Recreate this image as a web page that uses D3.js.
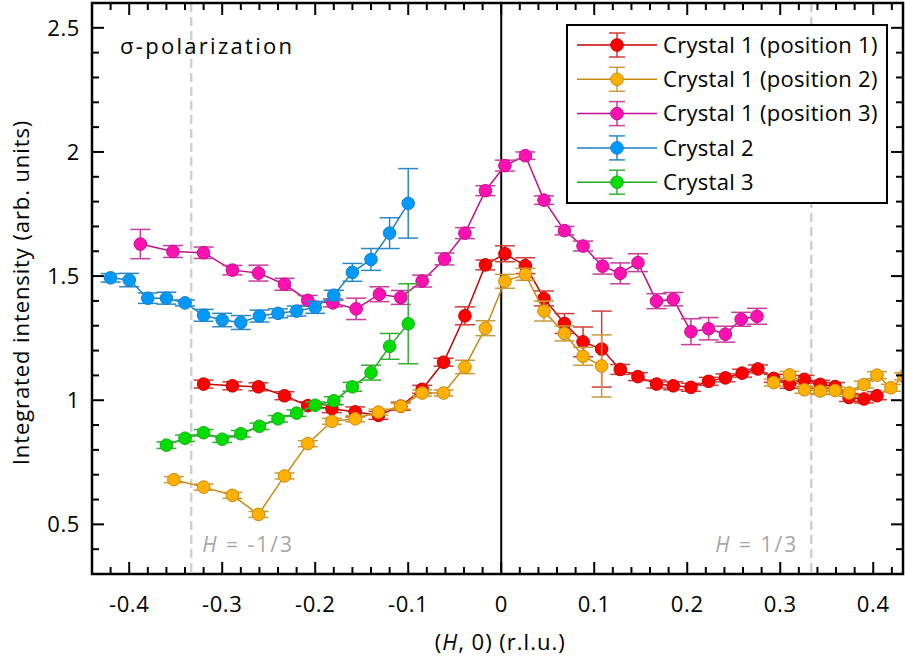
<!DOCTYPE html>
<html>
<head>
<meta charset="utf-8">
<script src="https://cdn.jsdelivr.net/npm/d3@7"></script>
<style>
	body { margin: 0; background: #fff; }
	svg text { font-family: "Open Sans", "Noto Sans", sans-serif; }
</style>
</head>
<body>
<div id="chart"></div>
<script>
// Crystal 1 (position 1)
const c1p1H = [-0.320, -0.289, -0.261, -0.233, -0.208, -0.182, -0.157, -0.132, -0.108, -0.085, -0.062, -0.039, -0.017, 0.004, 0.026, 0.046, 0.068, 0.088, 0.108, 0.128, 0.147, 0.167, 0.185, 0.204, 0.223, 0.241, 0.259, 0.276, 0.293, 0.310, 0.326, 0.343, 0.359, 0.374, 0.390, 0.404];
const c1p1I = [1.065, 1.058, 1.054, 1.018, 0.978, 0.966, 0.953, 0.939, 0.976, 1.044, 1.153, 1.340, 1.545, 1.590, 1.542, 1.410, 1.309, 1.235, 1.206, 1.124, 1.095, 1.065, 1.058, 1.052, 1.076, 1.090, 1.109, 1.126, 1.088, 1.064, 1.084, 1.064, 1.055, 1.011, 1.005, 1.018];
const c1p1Err = [0.016, 0.016, 0.016, 0.016, 0.016, 0.016, 0.02, 0.016, 0.016, 0.016, 0.016, 0.036, 0.02, 0.032, 0.032, 0.03, 0.04, 0.06, 0.153, 0.02, 0.016, 0.016, 0.016, 0.016, 0.016, 0.016, 0.016, 0.016, 0.016, 0.016, 0.016, 0.016, 0.016, 0.016, 0.016, 0.016];

// Crystal 1 (position 2)
const c1p2H = [-0.352, -0.320, -0.289, -0.261, -0.233, -0.208, -0.182, -0.157, -0.132, -0.108, -0.085, -0.062, -0.039, -0.017, 0.004, 0.026, 0.046, 0.068, 0.088, 0.108, 0.293, 0.310, 0.326, 0.343, 0.359, 0.374, 0.390, 0.404, 0.419, 0.433];
const c1p2I = [0.680, 0.650, 0.617, 0.540, 0.695, 0.825, 0.915, 0.925, 0.952, 0.976, 1.029, 1.029, 1.134, 1.290, 1.479, 1.507, 1.359, 1.269, 1.177, 1.138, 1.071, 1.102, 1.042, 1.037, 1.039, 1.029, 1.063, 1.101, 1.050, 1.096];
const c1p2Err = [0.012, 0.012, 0.012, 0.012, 0.012, 0.012, 0.012, 0.012, 0.012, 0.012, 0.012, 0.012, 0.027, 0.03, 0.028, 0.024, 0.04, 0.03, 0.036, 0.125, 0.014, 0.014, 0.014, 0.014, 0.014, 0.014, 0.014, 0.014, 0.014, 0.014];

// Crystal 1 (position 3)
const c1p3H = [-0.388, -0.353, -0.320, -0.289, -0.261, -0.233, -0.208, -0.181, -0.156, -0.131, -0.108, -0.085, -0.061, -0.039, -0.017, 0.004, 0.026, 0.046, 0.068, 0.088, 0.109, 0.128, 0.147, 0.167, 0.185, 0.204, 0.223, 0.241, 0.258, 0.275];
const c1p3I = [1.629, 1.599, 1.594, 1.524, 1.512, 1.467, 1.402, 1.392, 1.368, 1.427, 1.414, 1.480, 1.569, 1.673, 1.844, 1.945, 1.985, 1.806, 1.683, 1.621, 1.540, 1.511, 1.554, 1.399, 1.407, 1.276, 1.288, 1.266, 1.326, 1.338];
const c1p3Err = [0.059, 0.024, 0.023, 0.019, 0.032, 0.024, 0.02, 0.016, 0.043, 0.03, 0.028, 0.024, 0.024, 0.022, 0.02, 0.022, 0.015, 0.017, 0.017, 0.02, 0.032, 0.042, 0.036, 0.03, 0.027, 0.052, 0.045, 0.032, 0.028, 0.032];

// Crystal 2
const c2H = [-0.42, -0.40, -0.38, -0.36, -0.34, -0.32, -0.30, -0.28, -0.26, -0.24, -0.22, -0.20, -0.18, -0.16, -0.14, -0.12, -0.10];
const c2I = [1.493, 1.484, 1.411, 1.411, 1.392, 1.342, 1.323, 1.313, 1.339, 1.350, 1.359, 1.374, 1.423, 1.515, 1.567, 1.673, 1.793];
const c2Err = [0.017, 0.027, 0.021, 0.024, 0.012, 0.024, 0.027, 0.028, 0.024, 0.018, 0.02, 0.024, 0.02, 0.036, 0.044, 0.062, 0.14];

// Crystal 3
const c3H = [-0.36, -0.34, -0.32, -0.30, -0.28, -0.26, -0.24, -0.22, -0.20, -0.18, -0.16, -0.14, -0.12, -0.10];
const c3I = [0.819, 0.847, 0.869, 0.843, 0.865, 0.895, 0.925, 0.948, 0.980, 0.998, 1.054, 1.111, 1.217, 1.308];
const c3Err = [0.013, 0.013, 0.013, 0.013, 0.013, 0.013, 0.013, 0.013, 0.013, 0.016, 0.018, 0.03, 0.052, 0.161];

const seriesNames = ["Crystal 1 (position 1)", "Crystal 1 (position 2)", "Crystal 1 (position 3)", "Crystal 2", "Crystal 3"];
const xTicks = [-0.4, -0.3, -0.2, -0.1, 0, 0.1, 0.2, 0.3, 0.4];
const yTicks = [0.5, 1, 1.5, 2, 2.5];
const commensurateH = [-1 / 3, 1 / 3];

class ScanChart {
	constructor(_config) {
		this.config = {
			parentElement: _config.parentElement,
			containerWidth: _config.containerWidth || 905,
			containerHeight: _config.containerHeight || 663,
			margin: _config.margin || { top: 3, right: 2, bottom: 89, left: 92 },
		};
		this.series = [];
	}

	initVis() {
		let vis = this;
		const m = vis.config.margin;
		vis.width = vis.config.containerWidth - m.left - m.right;
		vis.height = vis.config.containerHeight - m.top - m.bottom;

		vis.svg = d3.select(vis.config.parentElement).append("svg")
			.attr("width", vis.config.containerWidth)
			.attr("height", vis.config.containerHeight);

		vis.chart = vis.svg.append("g").attr("transform", `translate(${m.left},${m.top})`);

		vis.xScale = d3.scaleLinear().domain([-0.44, 0.432]).range([0, vis.width]);
		vis.yScale = d3.scaleLinear().domain([0.3, 2.6]).range([vis.height, 0]);

		vis.svg.append("defs").append("clipPath").attr("id", "plot-clip")
			.append("rect").attr("width", vis.width).attr("height", vis.height);

		vis.render();
	}

	render() {
		let vis = this;
		const x = vis.xScale, y = vis.yScale;

		// reference lines at H = +-1/3
		vis.chart.selectAll(".comm-line").data(commensurateH).join("line")
			.attr("class", "comm-line")
			.attr("x1", (d) => x(d)).attr("x2", (d) => x(d))
			.attr("y1", 0).attr("y2", vis.height)
			.attr("stroke", "#d0d0d0").attr("stroke-width", 2.5)
			.attr("stroke-dasharray", "9,5");

		const hLabel = vis.chart.selectAll(".comm-label").data(commensurateH).join("text")
			.attr("class", "comm-label")
			.attr("x", (d) => (d < 0 ? x(d) + 11 : x(d) - 13))
			.attr("y", vis.height - 22)
			.attr("text-anchor", (d) => (d < 0 ? "start" : "end"))
			.attr("fill", "#a6a6a6").attr("font-size", 21).attr("letter-spacing", 2);
		hLabel.append("tspan").attr("font-style", "italic").text("H");
		hLabel.append("tspan").text((d) => (d < 0 ? " = -1/3" : " = 1/3"));

		// H = 0
		vis.chart.append("line")
			.attr("x1", x(0)).attr("x2", x(0)).attr("y1", 0).attr("y2", vis.height)
			.attr("stroke", "#000").attr("stroke-width", 2);

		// data
		const plot = vis.chart.append("g").attr("clip-path", "url(#plot-clip)");
		const line = d3.line().x((d) => x(d.h)).y((d) => y(d.i));

		vis.series.forEach((s) => {
			const pts = s.h.map((h, k) => ({ h: h, i: s.i[k], e: s.e[k] }));
			// break the line where the scan has a gap
			const segs = [[pts[0]]];
			for (let k = 1; k < pts.length; k++) {
				if (pts[k].h - pts[k - 1].h > 0.06) segs.push([]);
				segs[segs.length - 1].push(pts[k]);
			}
			const g = plot.append("g");

			g.selectAll("path").data(segs).join("path")
				.attr("fill", "none").attr("stroke", s.line).attr("stroke-width", 1.5)
				.attr("d", line);

			const bars = g.selectAll(".err").data(pts).join("g").attr("class", "err")
				.attr("stroke", s.err).attr("stroke-width", 1.5);
			bars.append("line")
				.attr("x1", (d) => x(d.h)).attr("x2", (d) => x(d.h))
				.attr("y1", (d) => y(d.i - d.e)).attr("y2", (d) => y(d.i + d.e));
			bars.selectAll(".cap").data((d) => [d.i - d.e, d.i + d.e].map((v) => ({ h: d.h, v: v })))
				.join("line").attr("class", "cap")
				.attr("x1", (d) => x(d.h) - 10).attr("x2", (d) => x(d.h) + 10)
				.attr("y1", (d) => y(d.v)).attr("y2", (d) => y(d.v));

			g.selectAll("circle").data(pts).join("circle")
				.attr("cx", (d) => x(d.h)).attr("cy", (d) => y(d.i)).attr("r", 6.3)
				.attr("fill", s.fill).attr("stroke", s.line).attr("stroke-width", 1);
		});

		// axes on all four sides, ticks inside
		const minorX = d3.range(-44, 44, 2).map((v) => v / 100).filter((v) => Math.abs(Math.round(v * 10) - v * 10) > 1e-6);
		const minorY = d3.range(3, 27, 1).map((v) => v / 10).filter((v) => Math.abs(Math.round(v * 2) - v * 2) > 1e-6);

		const ticks = vis.chart.append("g").attr("stroke", "#000").attr("stroke-width", 2);
		const addX = (vals, len) => {
			ticks.selectAll(null).data(vals).join("line")
				.attr("x1", (d) => x(d)).attr("x2", (d) => x(d)).attr("y1", vis.height).attr("y2", vis.height - len);
			ticks.selectAll(null).data(vals).join("line")
				.attr("x1", (d) => x(d)).attr("x2", (d) => x(d)).attr("y1", 0).attr("y2", len);
		};
		const addY = (vals, len) => {
			ticks.selectAll(null).data(vals).join("line")
				.attr("y1", (d) => y(d)).attr("y2", (d) => y(d)).attr("x1", 0).attr("x2", len);
			ticks.selectAll(null).data(vals).join("line")
				.attr("y1", (d) => y(d)).attr("y2", (d) => y(d)).attr("x1", vis.width).attr("x2", vis.width - len);
		};
		addX(xTicks, 12);
		addX(minorX, 7);
		addY(yTicks, 12);
		addY(minorY, 7);

		vis.chart.append("rect")
			.attr("width", vis.width).attr("height", vis.height)
			.attr("fill", "none").attr("stroke", "#000").attr("stroke-width", 2.5);

		vis.chart.selectAll(".x-tick").data(xTicks).join("text")
			.attr("class", "x-tick")
			.attr("x", (d) => x(d)).attr("y", vis.height + 38)
			.attr("text-anchor", "middle").attr("font-size", 22).attr("letter-spacing", 0.6)
			.text((d) => (d === 0 ? "0" : d3.format(".1f")(d).replace("−", "-")));

		vis.chart.selectAll(".y-tick").data(yTicks).join("text")
			.attr("class", "y-tick")
			.attr("x", -12).attr("y", (d) => y(d)).attr("dy", "0.35em")
			.attr("text-anchor", "end").attr("font-size", 22).attr("letter-spacing", 0.6)
			.text((d) => String(d));

		// axis titles
		const xTitle = vis.svg.append("text")
			.attr("x", vis.config.margin.left + x(0) - 1).attr("y", 650)
			.attr("text-anchor", "middle").attr("font-size", 22).attr("letter-spacing", 1);
		xTitle.append("tspan").text("(");
		xTitle.append("tspan").attr("font-style", "italic").text("H");
		xTitle.append("tspan").text(", 0) (r.l.u.)");

		vis.svg.append("text")
			.attr("transform", `translate(29,${vis.config.margin.top + vis.height / 2 + 4}) rotate(-90)`)
			.attr("text-anchor", "middle").attr("font-size", 22).attr("letter-spacing", 0.9)
			.text("Integrated intensity (arb. units)");

		vis.chart.append("text")
			.attr("x", 28).attr("y", 51).attr("font-size", 22).attr("letter-spacing", 2.3)
			.text("σ-polarization");

		// legend
		const lg = vis.chart.append("g").attr("transform", "translate(475,22)");
		lg.append("rect").attr("width", 320).attr("height", 178)
			.attr("fill", "#fff").attr("stroke", "#000").attr("stroke-width", 2);
		const rows = lg.selectAll(".row").data(vis.series).join("g")
			.attr("class", "row")
			.attr("transform", (d, k) => `translate(0,${20 + k * 34.3})`);
		rows.append("line").attr("x1", 10).attr("x2", 90).attr("stroke", (d) => d.line).attr("stroke-width", 1.5);
		rows.append("line").attr("x1", 50).attr("x2", 50).attr("y1", -12).attr("y2", 12)
			.attr("stroke", (d) => d.err).attr("stroke-width", 1.5);
		rows.selectAll(".cap").data((d) => [-12, 12].map((v) => ({ v: v, c: d.err }))).join("line")
			.attr("class", "cap")
			.attr("x1", 42).attr("x2", 58).attr("y1", (d) => d.v).attr("y2", (d) => d.v)
			.attr("stroke", (d) => d.c).attr("stroke-width", 1.5);
		rows.append("circle").attr("cx", 50).attr("r", 6.3)
			.attr("fill", (d) => d.fill).attr("stroke", (d) => d.line).attr("stroke-width", 1);
		rows.append("text").attr("x", 96).attr("dy", "0.35em").attr("font-size", 22).attr("letter-spacing", 0.3)
			.text((d) => d.name);
	}
}

const chart = new ScanChart({ parentElement: "#chart" });
chart.series = [
	{ name: seriesNames[0], h: c1p1H, i: c1p1I, e: c1p1Err, fill: "#ff0000", line: "#c80000", err: "#d03a3a" },
	{ name: seriesNames[1], h: c1p2H, i: c1p2I, e: c1p2Err, fill: "#ffb000", line: "#c88a10", err: "#c99a3a" },
	{ name: seriesNames[2], h: c1p3H, i: c1p3I, e: c1p3Err, fill: "#ff10b0", line: "#c01090", err: "#c83c9c" },
	{ name: seriesNames[3], h: c2H, i: c2I, e: c2Err, fill: "#0099ff", line: "#1a80c0", err: "#2a88c8" },
	{ name: seriesNames[4], h: c3H, i: c3I, e: c3Err, fill: "#00dd00", line: "#22aa22", err: "#30b030" },
];
chart.initVis();
</script>
</body>
</html>
